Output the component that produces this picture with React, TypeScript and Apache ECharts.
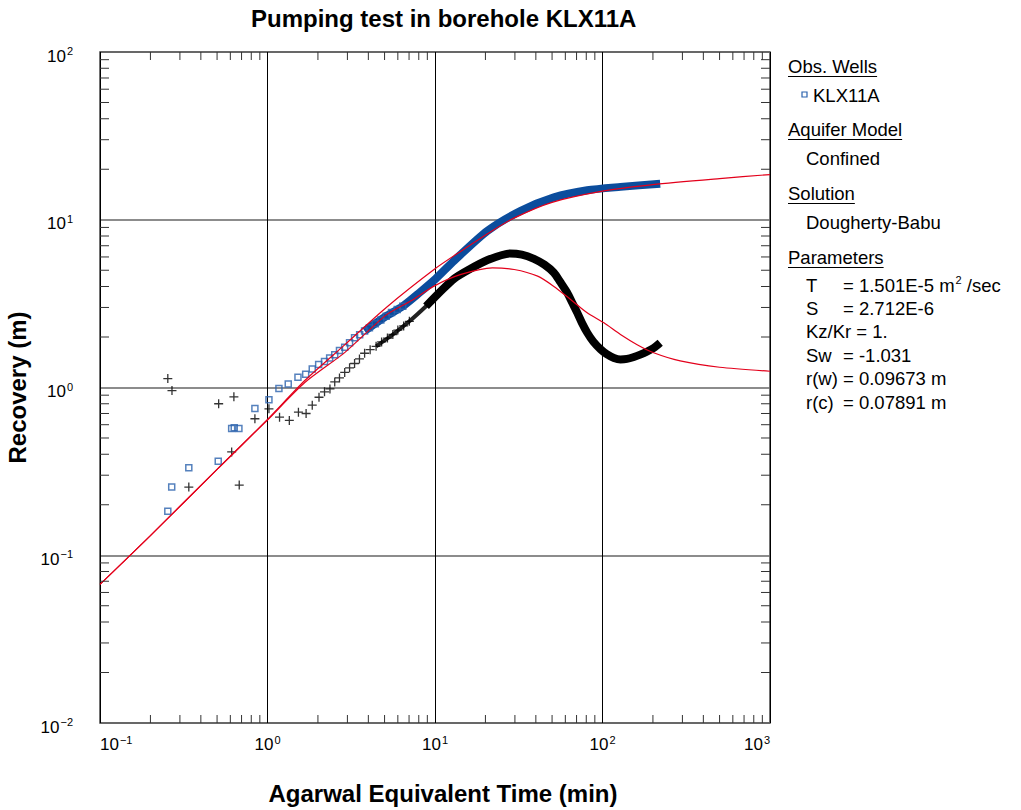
import React, { useEffect, useRef } from 'react';
import * as echarts from 'echarts';

// ---- Data ----
// Observation well KLX11A recovery (blue squares), early sparse points [time (min), recovery (m)]
const obsSparse: [number, number][] = [
  [0.254, 0.183], [0.268, 0.255], [0.339, 0.332], [0.508, 0.364], [0.611, 0.57],
  [0.633, 0.575], [0.675, 0.57], [0.841, 0.75], [1.02, 0.845], [1.17, 0.986],
  [1.33, 1.05], [1.52, 1.15], [1.69, 1.2], [1.85, 1.29], [2.02, 1.37],
  [2.19, 1.43], [2.35, 1.5], [2.52, 1.57], [2.69, 1.66], [2.89, 1.74],
  [3.09, 1.85], [3.31, 1.98], [3.55, 2.06], [3.8, 2.17], [4.06, 2.27],
  [4.4, 2.4], [4.75, 2.53], [5.11, 2.66], [5.5, 2.8], [5.95, 2.92], [6.42, 3.05],
];
// Dense part of the recovery record (overlapping squares form a band)
const obsDense: [number, number][] = [
  [3.8, 2.17], [5.11, 2.66], [6.42, 3.05], [8.07, 3.67],
  [10.1, 4.45], [13.0, 5.7], [20.6, 8.6], [32.5, 11.3], [51.3, 13.6],
  [81, 15.0], [128, 15.7], [221, 16.4],
];
// Derivative (black crosses), early sparse points
const derivSparse: [number, number][] = [
  [0.254, 1.13], [0.269, 0.959], [0.339, 0.255], [0.511, 0.8], [0.611, 0.413],
  [0.63, 0.88], [0.678, 0.262], [0.841, 0.651], [1.02, 0.746], [1.18, 0.665],
  [1.35, 0.636], [1.53, 0.713], [1.7, 0.7], [1.85, 0.785], [2.03, 0.875],
  [2.19, 0.942], [2.36, 0.98], [2.52, 1.08], [2.69, 1.14], [2.89, 1.23],
  [3.09, 1.31], [3.31, 1.39], [3.54, 1.48], [3.8, 1.6], [4.1, 1.68],
  [4.45, 1.76], [4.8, 1.87], [5.2, 1.97], [5.6, 2.07], [6.0, 2.2],
  [6.5, 2.33], [7.03, 2.48],
];
// Derivative, dense part (early, thinner band)
const derivDenseEarly: [number, number][] = [
  [4.45, 1.76], [5.6, 2.07], [7.03, 2.48], [8.84, 3.05], [10.0, 3.45],
];
// Derivative, dense part (thick band)
const derivDense: [number, number][] = [
  [8.84, 3.05], [11.1, 3.84], [13.0, 4.45], [15.7, 5.0], [20.6, 5.75], [28, 6.3],
  [33, 6.2], [39, 5.85], [45, 5.4], [51.3, 4.83], [56, 4.25], [61.6, 3.67], [66, 3.2], [70.7, 2.79],
  [75.5, 2.42], [81.1, 2.12], [88, 1.88], [97.3, 1.69], [106, 1.58], [117, 1.5], [128, 1.47], [140, 1.48],
  [154, 1.52], [168, 1.57], [185, 1.64], [202, 1.72], [221, 1.85],
];
// Dougherty-Babu model: recovery curve
const modelRecovery: [number, number][] = [
  [0.1, 0.067], [0.2, 0.131], [0.5, 0.325], [1, 0.645], [1.67, 1.1],
  [2.9, 1.8], [5.1, 2.99], [10, 5.1], [14.3, 6.5], [22, 8.6],
  [30, 10.3], [50, 12.7], [100, 14.8], [200, 16.2], [500, 17.6], [1000, 18.6],
];
// Dougherty-Babu model: derivative curve
const modelDerivative: [number, number][] = [
  [0.1, 0.067], [0.2, 0.131], [0.5, 0.325], [1, 0.64], [1.67, 1.07],
  [2.9, 1.62], [5.1, 2.7], [7.2, 3.29], [10, 4.05], [14.3, 4.72],
  [22, 5.17], [29.7, 5.05], [41, 4.61], [51, 4.02], [64.5, 3.35],
  [81, 2.79], [102, 2.43], [128, 2.07], [161, 1.8], [202, 1.61],
  [291, 1.44], [500, 1.32], [1000, 1.25],
];

// Axis decades and minor tick multipliers
const xDecades = [0.1, 1, 10, 100];
const yDecades = [0.01, 0.1, 1, 10];
const minorMultipliers = [2, 3, 4, 5, 6, 7, 8, 9];

// Legend / parameter panel texts
const panelHeadings = ['Obs. Wells', 'Aquifer Model', 'Solution', 'Parameters'];
const wellName = 'KLX11A';
const aquiferModel = 'Confined';
const solutionName = 'Dougherty-Babu';
const paramNames = ['T', 'S', '', 'Sw', 'r(w)', 'r(c)'];
const paramValues = ['= 1.501E-5 m', '= 2.712E-6', 'Kz/Kr = 1.', '= -1.031', '= 0.09673 m', '= 0.07891 m'];

const FONT = "'Liberation Sans', Arial, Helvetica, sans-serif";

function measure(text: string, size: number, weight = 'normal') {
  const c = document.createElement('canvas').getContext('2d');
  if (!c) return text.length * size * 0.55;
  c.font = `${weight} ${size}px "Liberation Sans", Arial, sans-serif`;
  return c.measureText(text).width;
}

function supLabel(v: number) {
  const e = Math.round(Math.log10(v));
  const es = e < 0 ? '\u2212' + Math.abs(e) : String(e);
  return `{b|10}{e|${es}}`;
}

export default function App() {
  const ref = useRef<HTMLDivElement>(null);
  useEffect(() => {
    if (!ref.current) return;
    const chart = echarts.init(ref.current, null, { renderer: 'svg' });

    const xMinor: number[] = [];
    xDecades.forEach((d) => minorMultipliers.forEach((m) => xMinor.push(m * d)));
    const yMinor: number[] = [];
    yDecades.forEach((d) => minorMultipliers.forEach((m) => yMinor.push(m * d)));

    const labelRich = {
      b: { fontSize: 17, fontFamily: FONT, color: '#000' },
      e: { fontSize: 11, fontFamily: FONT, color: '#000', padding: [0, 0, 10, 1] },
    };

    const legendFs = 18.5;
    const headY = [66, 129, 193, 257];
    const paramY = [285, 308, 331, 355, 378, 402];
    const graphics: any[] = [];
    panelHeadings.forEach((h, i) => {
      const w = measure(h, legendFs);
      graphics.push({
        type: 'text', x: 788, y: headY[i],
        style: { text: h, fontSize: legendFs, fontFamily: FONT, fill: '#000', verticalAlign: 'middle' },
      });
      graphics.push({
        type: 'line', shape: { x1: 788, y1: headY[i] + 10.5, x2: 788 + w, y2: headY[i] + 10.5 },
        style: { stroke: '#000', lineWidth: 1 },
      });
    });
    graphics.push({
      type: 'rect', shape: { x: 802, y: 92, width: 5, height: 5 },
      style: { fill: '#fff', stroke: '#2a62ad', lineWidth: 1.2 },
    });
    graphics.push({
      type: 'text', x: 813, y: 95,
      style: { text: wellName, fontSize: legendFs, fontFamily: FONT, fill: '#000', verticalAlign: 'middle' },
    });
    graphics.push({
      type: 'text', x: 806, y: 158,
      style: { text: aquiferModel, fontSize: legendFs, fontFamily: FONT, fill: '#000', verticalAlign: 'middle' },
    });
    graphics.push({
      type: 'text', x: 806, y: 222,
      style: { text: solutionName, fontSize: legendFs, fontFamily: FONT, fill: '#000', verticalAlign: 'middle' },
    });
    paramNames.forEach((n, i) => {
      const y = paramY[i];
      if (n) {
        graphics.push({
          type: 'text', x: 806, y,
          style: { text: n, fontSize: legendFs, fontFamily: FONT, fill: '#000', verticalAlign: 'middle' },
        });
      }
      const isT = i === 0;
      graphics.push({
        type: 'text', x: n ? 843 : 806, y,
        style: {
          text: isT ? `{n|${paramValues[i]}}{s|2}{n| /sec}` : paramValues[i],
          fontSize: legendFs, fontFamily: FONT, fill: '#000', verticalAlign: 'middle',
          rich: isT ? {
            n: { fontSize: legendFs, fontFamily: FONT, fill: '#000' },
            s: { fontSize: 11, fontFamily: FONT, fill: '#000', padding: [0, 0, 10, 1] },
          } : undefined,
        },
      });
    });

    const tickSeries = (values: number[], isX: boolean) => ({
      type: 'custom',
      silent: true,
      z: 6,
      clip: false,
      data: values.map((v) => (isX ? [v, 1] : [1, v])),
      renderItem: (params: any, api: any) => {
        const cs = params.coordSys;
        const p = api.coord([api.value(0), api.value(1)]);
        const st = { stroke: '#333', lineWidth: 1 };
        if (isX) {
          const x = p[0];
          return {
            type: 'group', children: [
              { type: 'line', shape: { x1: x, y1: cs.y + cs.height, x2: x, y2: cs.y + cs.height - 8 }, style: st },
              { type: 'line', shape: { x1: x, y1: cs.y, x2: x, y2: cs.y + 8 }, style: st },
            ],
          };
        }
        const y = p[1];
        return {
          type: 'group', children: [
            { type: 'line', shape: { x1: cs.x, y1: y, x2: cs.x + 9, y2: y }, style: st },
            { type: 'line', shape: { x1: cs.x + cs.width, y1: y, x2: cs.x + cs.width - 9, y2: y }, style: st },
          ],
        };
      },
    });

    const option: any = {
      animation: false,
      backgroundColor: '#fff',
      title: {
        text: 'Pumping test in borehole KLX11A',
        left: 246, top: 1,
        textStyle: { fontSize: 24, fontWeight: 'bold', fontFamily: FONT, color: '#000' },
      },
      grid: {
        left: 100, right: 251, top: 52, bottom: 87,
        outerBoundsMode: 'none',
        show: true, borderColor: '#444', borderWidth: 1.5, backgroundColor: 'transparent',
      },
      xAxis: {
        type: 'log', logBase: 10, min: 0.1, max: 1000,
        name: 'Agarwal Equivalent Time (min)',
        nameLocation: 'middle', nameGap: 58,
        nameTextStyle: { fontSize: 24, fontWeight: 'bold', fontFamily: FONT, color: '#000', padding: [0, 0, 0, 16] },
        axisLine: { show: false },
        axisTick: { show: false },
        splitLine: { show: true, lineStyle: { color: '#000', width: 1 } },
        axisLabel: {
          margin: 11, formatter: supLabel, rich: labelRich,
          alignMinLabel: 'left', alignMaxLabel: 'right',
        },
      },
      yAxis: {
        type: 'log', logBase: 10, min: 0.01, max: 100,
        name: 'Recovery (m)',
        nameLocation: 'middle', nameGap: 64,
        nameTextStyle: { fontSize: 24, fontWeight: 'bold', fontFamily: FONT, color: '#000' },
        axisLine: { show: false },
        axisTick: { show: false },
        splitLine: { show: true, lineStyle: { color: '#666', width: 1.5 } },
        axisLabel: { margin: 27, formatter: supLabel, rich: labelRich, padding: [8, 0, 0, 0] },
      },
      graphic: graphics,
      series: [
        tickSeries(xMinor, true),
        tickSeries(yMinor, false),
        {
          name: 'KLX11A dense', type: 'line', data: obsDense, smooth: 0.25,
          showSymbol: false, z: 3,
          lineStyle: { color: '#0b4d9d', width: 8, cap: 'butt' },
        },
        {
          name: 'KLX11A', type: 'scatter', data: obsSparse, symbol: 'rect', symbolSize: 6, z: 3,
          itemStyle: { color: 'transparent', borderColor: '#2a62ad', borderWidth: 1.5 },
        },
        {
          name: 'Derivative dense early', type: 'line', data: derivDenseEarly, smooth: 0.25,
          showSymbol: false, z: 3,
          lineStyle: { color: '#222', width: 4, cap: 'butt' },
        },
        {
          name: 'Derivative dense', type: 'line', data: derivDense, smooth: 0.25,
          showSymbol: false, z: 3,
          lineStyle: { color: '#000', width: 8, cap: 'butt' },
        },
        {
          name: 'Derivative', type: 'scatter', data: derivSparse,
          symbol: 'path://M0,5 L10,5 M5,0 L5,10', symbolSize: 9, z: 3,
          itemStyle: { color: 'transparent', borderColor: '#000', borderWidth: 1.3 },
        },
        {
          name: 'Model', type: 'line', data: modelRecovery, smooth: 0.25, showSymbol: false, z: 4,
          lineStyle: { color: '#e3001b', width: 1.2 },
        },
        {
          name: 'Model derivative', type: 'line', data: modelDerivative, smooth: 0.25, showSymbol: false, z: 4,
          lineStyle: { color: '#e3001b', width: 1.2 },
        },
      ],
    };
    chart.setOption(option);
    return () => chart.dispose();
  }, []);
  return (
    <div
      ref={ref}
      style={{ position: 'absolute', left: 0, top: 0, width: 1021, height: 810, background: '#fff' }}
    />
  );
}
